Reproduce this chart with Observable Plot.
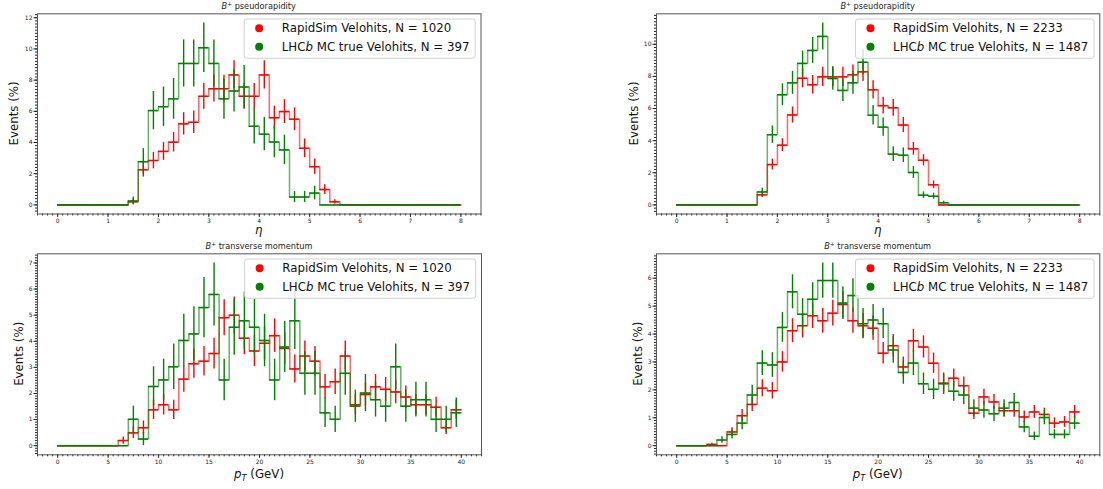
<!DOCTYPE html>
<html>
<head>
<meta charset="utf-8">
<script src="https://cdn.jsdelivr.net/npm/d3@7"></script>
<script src="https://cdn.jsdelivr.net/npm/@observablehq/plot@0.6"></script>
<style>
  body { margin: 0; background: #fff; overflow: hidden; }
  #fig { position: relative; width: 1103px; height: 489px; font-family: "DejaVu Sans", sans-serif; }
  #fig svg { position: absolute; }
</style>
</head>
<body>
<div id="fig"></div>
<script>
// Sample sizes quoted in the legends (left column: sample A, right column: sample B)
const nRapidSimA = 1020, nLhcbA = 397;
const nRapidSimB = 2233, nLhcbB = 1487;

// Histogram ranges: 40 bins each
const etaRange = [0, 8];
const ptRange = [0, 40];

// Per-bin event counts, B+ pseudorapidity (bin width 0.2)
const etaRapidSimA = [0,0,0,0,0,0,0, 2, 23,29,35,41,53,54,71,76,76,85,71,71,85,57,61,56,37,25,10,2, 0,0,0,0,0,0,0,0,0,0,0,0];
const etaLhcbA     = [0,0,0,0,0,0,0, 1, 11,24,25,27,36,36,40,36,27,29,30,20,18,16,14,2,2,3, 0,0,0,0,0,0,0,0,0,0,0,0,0,0];
const etaRapidSimB = [0,0,0,0,0,0,0,0, 14,56,83,125,176,167,178,178,178,181,185,160,138,135,111,78,62,28, 0,0,0,0,0,0,0,0,0,0,0,0,0,0];
const etaLhcbB     = [0,0,0,0,0,0,0,0, 12,65,102,113,131,143,156,117,106,113,132,83,72,47,46,30,9,8,2, 0,0,0,0,0,0,0,0,0,0,0,0,0];

// Per-bin event counts, B+ transverse momentum (bin width 1 GeV)
const ptRapidSimA = [0,0,0,0,0,0, 2,5,7,14,16,14,26,32,33,36,50,51,42,37,40,43,38,30,35,33,23,25,35,16,20,23,22,21,19,16,16,15,7,14];
const ptLhcbA     = [0,0,0,0,0,0,0, 4,1,9,10,12,16,17,21,23,10,18,19,18,16,10,15,19,11,11,5,4,11,6,8,7,6,12,6,7,7,4,4,5];
const ptRapidSimB = [0,0,0, 1,0,11,24,33,46,44,67,92,96,104,100,106,113,100,96,94,74,80,63,84,79,66,50,54,48,26,39,35,28,28,23,27,25,18,19,27];
const ptLhcbB     = [0,0,0,0, 3,6,12,27,44,43,63,82,70,78,88,88,76,80,65,67,65,51,39,44,33,30,33,29,27,20,19,17,20,23,10,5,15,6,6,12];

const colors = { rapidsim: "red", lhcb: "green" };

function series(counts, n, kind) {
  const label = kind === "rapidsim"
    ? [{ text: `RapidSim Velohits, N = ${n}` }]
    : [{ text: "LHC" }, { text: "b", italic: true }, { text: ` MC true Velohits, N = ${n}` }];
  return { counts, n, color: colors[kind], label };
}

const panels = [
  { title: "pseudorapidity", xlabel: "eta", range: etaRange, xStep: 1, yStep: 2,
    series: [series(etaRapidSimA, nRapidSimA, "rapidsim"), series(etaLhcbA, nLhcbA, "lhcb")],
    left: 0, top: 0, width: 551, height: 240, ml: 37, mr: 70.5, mt: 13.3, mb: 26.5, ylabOff: 22.7, xlabOff: 20.5 },
  { title: "pseudorapidity", xlabel: "eta", range: etaRange, xStep: 1, yStep: 2,
    series: [series(etaRapidSimB, nRapidSimB, "rapidsim"), series(etaLhcbB, nLhcbB, "lhcb")],
    left: 551, top: 0, width: 552, height: 240, ml: 105, mr: 3.7, mt: 13.3, mb: 26.5, ylabOff: 22, xlabOff: 20.5 },
  { title: "transverse momentum", xlabel: "pt", range: ptRange, xStep: 5, yStep: 1,
    series: [series(ptRapidSimA, nRapidSimA, "rapidsim"), series(ptLhcbA, nLhcbA, "lhcb")],
    left: 0, top: 240, width: 551, height: 249, ml: 37, mr: 70, mt: 13.3, mb: 34.7, ylabOff: 18.4, xlabOff: 24 },
  { title: "transverse momentum", xlabel: "pt", range: ptRange, xStep: 5, yStep: 1,
    series: [series(ptRapidSimB, nRapidSimB, "rapidsim"), series(ptLhcbB, nLhcbB, "lhcb")],
    left: 551, top: 240, width: 552, height: 249, ml: 105, mr: 3.7, mt: 13.3, mb: 34.7, ylabOff: 17.6, xlabOff: 24 }
];

function tickValues(domain, step) {
  const a = Math.ceil(domain[0] / step - 1e-9), b = Math.floor(domain[1] / step + 1e-9);
  return d3.range(a, b + 1).map(i => +(i * step).toFixed(6));
}

const fig = d3.select("#fig");

function drawPanel(p) {
  const [lo, hi] = p.range;
  // Percent of events per bin with Poisson uncertainty
  const hists = p.series.map(s => {
    const w = (hi - lo) / s.counts.length;
    const bins = s.counts.map((c, i) => ({
      x1: lo + i * w, x2: lo + (i + 1) * w, xc: lo + (i + 0.5) * w,
      y: 100 * c / s.n, err: 100 * Math.sqrt(c) / s.n
    }));
    const step = bins.map(b => ({ x: b.x1, y: b.y }));
    step.push({ x: hi, y: bins[bins.length - 1].y });
    return { ...s, bins, step };
  });

  const ymax = d3.max(hists, h => d3.max(h.bins, b => b.y + b.err));
  const xpad = 0.05 * (hi - lo);
  const xDomain = [lo - xpad, hi + xpad];
  const yDomain = [-0.05 * ymax, 1.05 * ymax];

  const marks = [];
  for (const h of hists) {
    marks.push(
      Plot.line(h.step, { x: "x", y: "y", curve: "step-after", stroke: h.color, strokeWidth: 1.5, strokeOpacity: 0.6 }),
      Plot.ruleY(h.bins, { x1: "x1", x2: "x2", y: "y", stroke: h.color, strokeWidth: 1.4 }),
      Plot.ruleX(h.bins.filter(b => b.err > 0), { x: "xc", y1: b => b.y - b.err, y2: b => b.y + b.err, stroke: h.color, strokeWidth: 1.4 })
    );
  }
  const axisStyle = { color: "#222", fontSize: 6, label: null };
  marks.push(
    Plot.axisX(tickValues(xDomain, p.xStep), { ...axisStyle, tickSize: 3.5, tickPadding: 1.5 }),
    Plot.axisX(tickValues(xDomain, p.xStep / 10), { ...axisStyle, tickSize: 2, tickFormat: () => "" }),
    Plot.axisY(tickValues(yDomain, p.yStep), { ...axisStyle, tickSize: 3.5, tickPadding: 1.5 }),
    Plot.axisY(tickValues(yDomain, p.yStep / 10), { ...axisStyle, tickSize: 2, tickFormat: () => "" }),
    Plot.frame({ stroke: "#555", strokeWidth: 1 })
  );

  const svgNode = Plot.plot({
    width: p.width, height: p.height,
    marginLeft: p.ml, marginRight: p.mr, marginTop: p.mt, marginBottom: p.mb,
    x: { domain: xDomain }, y: { domain: yDomain },
    style: { fontFamily: "DejaVu Sans", background: "transparent", overflow: "visible" },
    marks
  });
  svgNode.style.left = p.left + "px";
  svgNode.style.top = p.top + "px";
  fig.node().appendChild(svgNode);
  const svg = d3.select(svgNode);

  const fx0 = p.ml, fx1 = p.width - p.mr, fy0 = p.mt, fy1 = p.height - p.mb;
  const cx = (fx0 + fx1) / 2, cy = (fy0 + fy1) / 2;

  // Title: B+ <variable>
  const title = svg.append("text").attr("x", cx).attr("y", fy0 - 4.3)
    .attr("text-anchor", "middle").attr("font-size", 8.2).attr("fill", "#222");
  title.append("tspan").attr("font-style", "italic").text("B");
  title.append("tspan").attr("font-size", 5.8).attr("dy", -3.2).text("+");
  title.append("tspan").attr("dy", 3.2).text(" " + p.title);

  // y label
  svg.append("text").attr("transform", `translate(${fx0 - p.ylabOff},${cy}) rotate(-90)`)
    .attr("text-anchor", "middle").attr("dominant-baseline", "central")
    .attr("font-size", 11.8).attr("fill", "#111").text("Events (%)");

  // x label
  const xl = svg.append("text").attr("x", cx).attr("y", fy1 + p.xlabOff)
    .attr("text-anchor", "middle").attr("font-size", 11.8).attr("fill", "#111");
  if (p.xlabel === "eta") {
    xl.append("tspan").attr("font-style", "italic").text("η");
  } else {
    xl.append("tspan").attr("font-style", "italic").text("p");
    xl.append("tspan").attr("font-style", "italic").attr("font-size", 8.3).attr("dy", 2.2).text("T");
    xl.append("tspan").attr("dy", -2.2).text(" (GeV)");
  }

  // Legend
  const lg = svg.append("g").attr("font-size", 11.8).attr("text-anchor", "start");
  const box = lg.append("rect");
  const texts = hists.map((h, k) => {
    const y = fy0 + 15 + k * 18.4;
    const circ = lg.append("circle").attr("cy", y).attr("r", 4).attr("fill", h.color);
    const t = lg.append("text").attr("y", y).attr("dy", "0.35em").attr("fill", "#111").attr("text-anchor", "start");
    h.label.forEach(part => t.append("tspan").attr("font-style", part.italic ? "italic" : null).text(part.text));
    return { circ, t, len: t.node().getComputedTextLength() };
  });
  const maxLen = d3.max(texts, d => d.len);
  const boxW = 37.6 + maxLen + 5.7;
  const boxR = fx1 - 5.3;
  const boxL = boxR - boxW;
  box.attr("x", boxL).attr("y", fy0 + 5.7).attr("width", boxW).attr("height", 39.3)
    .attr("rx", 2.5).attr("fill", "white").attr("fill-opacity", 0.8).attr("stroke", "#d0d0d0").attr("stroke-width", 1);
  texts.forEach(d => { d.circ.attr("cx", boxL + 15); d.t.attr("x", boxL + 37.6); });
}

panels.forEach(drawPanel);
</script>
</body>
</html>
